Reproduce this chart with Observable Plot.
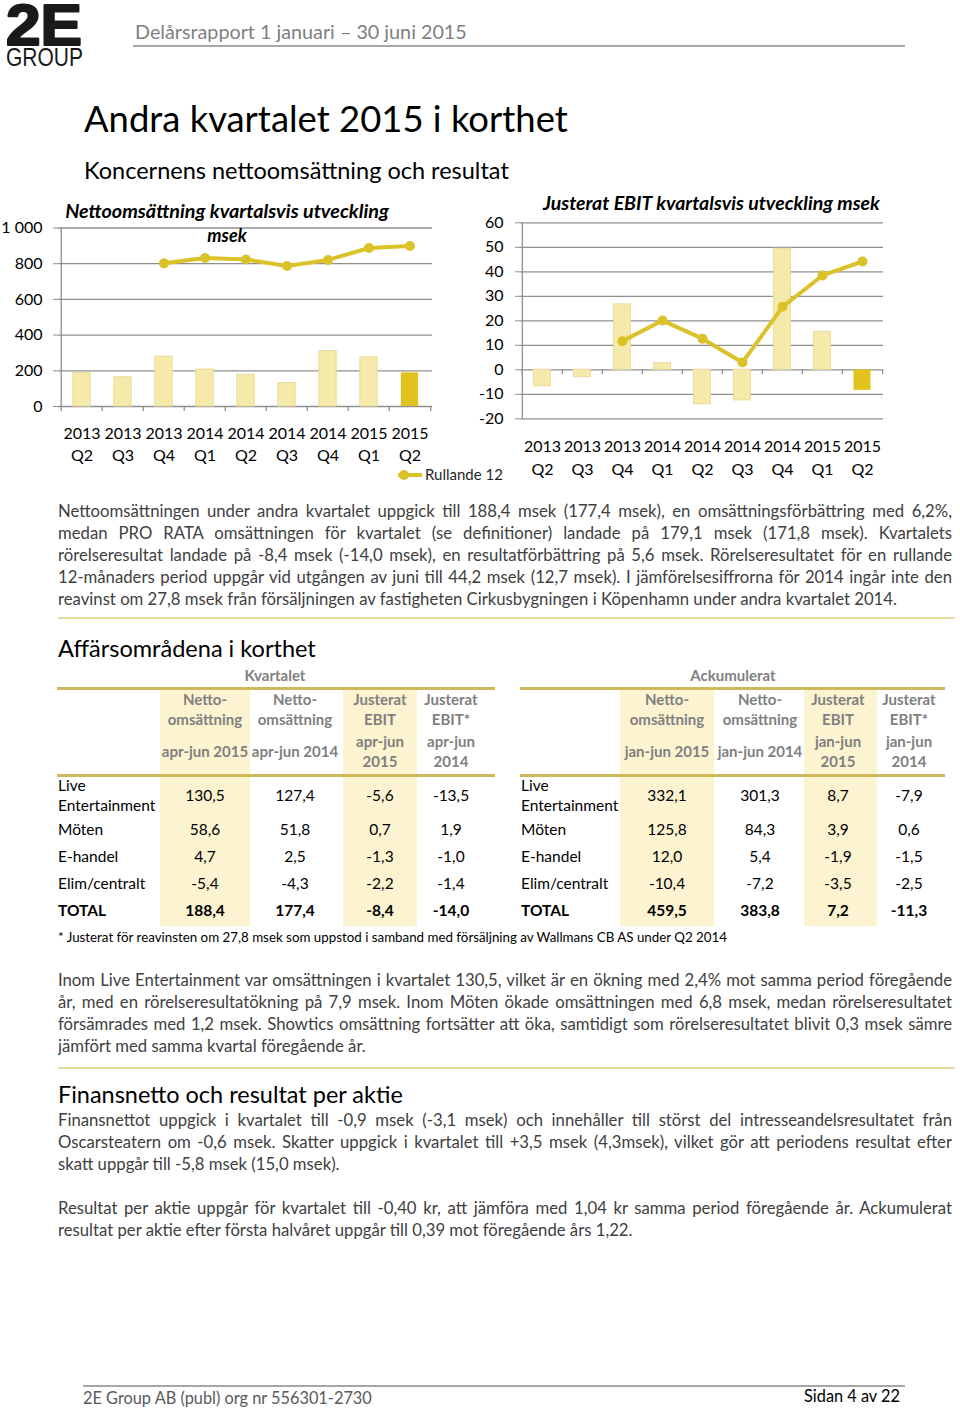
<!DOCTYPE html>
<html><head><meta charset="utf-8">
<script src="https://cdn.jsdelivr.net/npm/d3@7"></script>
<script src="https://cdn.jsdelivr.net/npm/@observablehq/plot@0.6"></script>
<style>
body{margin:0;background:#fff;}
#page{position:relative;width:960px;height:1410px;overflow:hidden;font-family:Lato,"Open Sans",sans-serif;background:#fff;}
.t{position:absolute;white-space:pre;}
.ln{position:absolute;overflow:hidden;white-space:normal;}
.rule{position:absolute;}
.chart{position:absolute;}
</style></head><body><div id="page"></div>
<script>
// ---------- data ----------
const quarters = ["2013 Q2","2013 Q3","2013 Q4","2014 Q1","2014 Q2","2014 Q3","2014 Q4","2015 Q1","2015 Q2"];
const salesQuarter = [187, 164, 279, 207, 177.4, 131, 310, 275, 188.4];
const salesRolling12 = [null, null, 802, 832, 824, 787, 821, 888, 899];
const ebitQuarter = [-6.7, -3.0, 26.7, 2.7, -14.1, -12.5, 49.4, 15.5, -8.4];
const ebitRolling12 = [null, null, 11.7, 20.1, 12.7, 3.0, 25.7, 38.5, 44.2];
const salesTicks = [0, 200, 400, 600, 800, 1000];
const salesTickLabels = ["0", "200", "400", "600", "800", "1 000"];
const ebitTicks = [-20, -10, 0, 10, 20, 30, 40, 50, 60];

const segments = ["Live\nEntertainment", "Möten", "E-handel", "Elim/centralt", "TOTAL"];
const qNet2015 = [130.5, 58.6, 4.7, -5.4, 188.4];
const qNet2014 = [127.4, 51.8, 2.5, -4.3, 177.4];
const qEbit2015 = [-5.6, 0.7, -1.3, -2.2, -8.4];
const qEbit2014 = [-13.5, 1.9, -1.0, -1.4, -14.0];
const aNet2015 = [332.1, 125.8, 12.0, -10.4, 459.5];
const aNet2014 = [301.3, 84.3, 5.4, -7.2, 383.8];
const aEbit2015 = [8.7, 3.9, -1.9, -3.5, 7.2];
const aEbit2014 = [-7.9, 0.6, -1.5, -2.5, -11.3];

const para1 = [
 "Nettoomsättningen under andra kvartalet uppgick till 188,4 msek (177,4 msek), en omsättningsförbättring med 6,2%,",
 "medan PRO RATA omsättningen för kvartalet (se definitioner) landade på 179,1 msek (171,8 msek). Kvartalets",
 "rörelseresultat landade på -8,4 msek (-14,0 msek), en resultatförbättring på 5,6 msek. Rörelseresultatet för en rullande",
 "12-månaders period uppgår vid utgången av juni till 44,2 msek (12,7 msek). I jämförelsesiffrorna för 2014 ingår inte den",
 "reavinst om 27,8 msek från försäljningen av fastigheten Cirkusbygningen i Köpenhamn under andra kvartalet 2014."];
const para2 = [
 "Inom Live Entertainment var omsättningen i kvartalet 130,5, vilket är en ökning med 2,4% mot samma period föregående",
 "år, med en rörelseresultatökning på 7,9 msek. Inom Möten ökade omsättningen med 6,8 msek, medan rörelseresultatet",
 "försämrades med 1,2 msek. Showtics omsättning fortsätter att öka, samtidigt som rörelseresultatet blivit 0,3 msek sämre",
 "jämfört med samma kvartal föregående år."];
const para3 = [
 "Finansnettot uppgick i kvartalet till -0,9 msek (-3,1 msek) och innehåller till störst del intresseandelsresultatet från",
 "Oscarsteatern om -0,6 msek. Skatter uppgick i kvartalet till +3,5 msek (4,3msek), vilket gör att periodens resultat efter",
 "skatt uppgår till -5,8 msek (15,0 msek)."];
const para4 = [
 "Resultat per aktie uppgår för kvartalet till -0,40 kr, att jämföra med 1,04 kr samma period föregående år. Ackumulerat",
 "resultat per aktie efter första halvåret uppgår till 0,39 mot föregående års 1,22."];

// ---------- helpers ----------
const FONT = "Lato, 'Open Sans', sans-serif";
const page = document.getElementById("page");
function T(str, x, yc, size, o = {}) {
  const d = document.createElement("div");
  d.className = "t"; d.textContent = str;
  Object.assign(d.style, {left: x + "px", fontSize: size + "px", lineHeight: (size * 1.2) + "px",
    color: o.color || "#000", fontWeight: o.weight || "normal", fontStyle: o.style || "normal",
    fontFamily: o.family || FONT});
  page.appendChild(d);
  if (o.w) {
    const w = d.getBoundingClientRect().width;
    size = size * o.w / w;
    d.style.fontSize = size + "px"; d.style.lineHeight = (size * 1.2) + "px";
  }
  const w = d.getBoundingClientRect().width;
  if (o.anchor === "middle") d.style.left = (x - w / 2) + "px";
  if (o.anchor === "end") d.style.left = (x - w) + "px";
  d.style.top = (yc - size * 0.66) + "px";
  return d;
}
function R(x, y, w, h, color) {
  const d = document.createElement("div");
  d.className = "rule";
  Object.assign(d.style, {left: x + "px", top: y + "px", width: w + "px", height: h + "px", background: color});
  page.appendChild(d);
  return d;
}
const cv = document.createElement("canvas").getContext("2d");
cv.font = "16px Lato";
const bodySize = 16 * 840 / cv.measureText(para1[4]).width;
function paragraph(lines, y0, step) {
  lines.forEach((s, i) => {
    const d = document.createElement("div");
    d.className = "ln"; d.textContent = s;
    const last = i === lines.length - 1;
    Object.assign(d.style, {left: "58px", width: "894px", top: (y0 + i * step - bodySize * 0.66) + "px",
      height: (bodySize * 1.2) + "px", fontSize: bodySize + "px", lineHeight: (bodySize * 1.2) + "px",
      color: "#404040", textAlign: last ? "left" : "justify", textAlignLast: last ? "left" : "justify"});
    page.appendChild(d);
  });
}
const fmt = v => v.toFixed(1).replace(".", ",");

// ---------- header ----------
const logo = document.createElementNS("http://www.w3.org/2000/svg", "svg");
logo.setAttribute("width", 100); logo.setAttribute("height", 75);
logo.style.position = "absolute"; logo.style.left = "0px"; logo.style.top = "0px";
logo.innerHTML = `<text x="6" y="45" font-family="Liberation Sans, Arial, sans-serif" font-weight="bold" font-size="58" textLength="76" lengthAdjust="spacingAndGlyphs" fill="#1a1a1a" stroke="#1a1a1a" stroke-width="2.2" stroke-linejoin="round">2E</text>
<text x="6" y="66" font-family="Liberation Sans Narrow, Liberation Sans, sans-serif" font-size="25" textLength="77" lengthAdjust="spacingAndGlyphs" fill="#1a1a1a">GROUP</text>`;
page.appendChild(logo);
T("Delårsrapport 1 januari – 30 juni 2015", 135, 33, 20, {color: "#808080", w: 332});
R(133, 45, 772, 2, "#a6a6a6");
T("Andra kvartalet 2015 i korthet", 84, 121, 36, {w: 484});
T("Koncernens nettoomsättning och resultat", 84, 172, 22, {w: 425});

// ---------- charts ----------
const LIGHT = "#f5eaa9", LIGHT_STROKE = "#e9dc9c", HIGHLIGHT = "#e2c31d", LINE = "#dcc22a", GRID = "#8f8f8f";
function makeChart(o) {
  const n = quarters.length;
  const bw = (o.width - o.ml - o.mr) / n;
  const data = quarters.map((q, i) => ({q, v: o.bars[i], r: o.rolling[i], last: i === n - 1}));
  const rolling = data.filter(d => d.r != null);
  const inset = bw * 0.285;
  return Plot.plot({
    width: o.width, height: o.height,
    marginTop: o.mt, marginBottom: o.mb, marginLeft: o.ml, marginRight: o.mr,
    style: {fontFamily: FONT, fontSize: "16px", color: "#000", background: "transparent", overflow: "visible"},
    x: {domain: quarters, padding: 0, axis: null, label: null},
    y: {domain: o.domain, axis: null, label: null},
    marks: [
      Plot.ruleY(o.ticks, {stroke: GRID, strokeWidth: 1.3}),
      Plot.ruleX([quarters[0]], {x: d => d, y1: o.domain[0], y2: o.domain[1], dx: -bw / 2, stroke: GRID, strokeWidth: 1.3}),
      Plot.barY(data.filter(d => !d.last), {x: "q", y1: 0, y2: "v", fill: LIGHT, stroke: LIGHT_STROKE, insetLeft: inset, insetRight: inset}),
      Plot.barY(data.filter(d => d.last), {x: "q", y1: 0, y2: "v", fill: HIGHLIGHT, insetLeft: inset, insetRight: inset}),
      Plot.ruleX(quarters, {x: d => d, y1: 0, y2: 0, insetBottom: -5, dx: -bw / 2, stroke: GRID, strokeWidth: 1.3}),
      Plot.ruleX([quarters[n - 1]], {x: d => d, y1: 0, y2: 0, insetBottom: -5, dx: bw / 2, stroke: GRID, strokeWidth: 1.3}),
      Plot.line(rolling, {x: "q", y: "r", stroke: LINE, strokeWidth: 4}),
      Plot.dot(rolling, {x: "q", y: "r", r: 5, fill: LINE}),
      Plot.axisY(o.ticks, {label: null, tickSize: 5, tickPadding: o.tickPad, tickFormat: o.fmt, stroke: GRID, fill: "#000", fontSize: 16}),
      Plot.axisX({label: null, tickSize: 0, tickPadding: o.xPad, tickFormat: d => d.replace(" ", "\n"), lineHeight: 1.42, fill: "#000", fontSize: 16})
    ]
  });
}
const c1 = makeChart({width: 440, height: 275, mt: 32.5, mb: 64, ml: 58, mr: 8, domain: [0, 1000],
  ticks: salesTicks, fmt: d => salesTickLabels[salesTicks.indexOf(d)], tickPad: 11, xPad: 16,
  bars: salesQuarter, rolling: salesRolling12});
c1.classList.add("chart"); c1.style.left = "0px"; c1.style.top = "195px";
page.appendChild(c1);
const c2 = makeChart({width: 420, height: 290, mt: 27.3, mb: 66.7, ml: 50, mr: 7, domain: [-20, 60],
  ticks: ebitTicks, fmt: d => String(d), tickPad: 12, xPad: 17,
  bars: ebitQuarter, rolling: ebitRolling12});
c2.classList.add("chart"); c2.style.left = "470px"; c2.style.top = "195px";
page.appendChild(c2);

T("Nettoomsättning kvartalsvis utveckling", 227, 212, 18, {weight: "bold", style: "italic", w: 324, anchor: "middle"});
T("msek", 227, 237, 18, {weight: "bold", style: "italic", anchor: "middle"});
T("Justerat EBIT kvartalsvis utveckling msek", 543, 204, 18, {weight: "bold", style: "italic", w: 337});

// legend
const lg = document.createElementNS("http://www.w3.org/2000/svg", "svg");
lg.setAttribute("width", 30); lg.setAttribute("height", 14);
lg.style.position = "absolute"; lg.style.left = "396px"; lg.style.top = "468px";
lg.innerHTML = `<line x1="2" x2="26" y1="7" y2="7" stroke="${LINE}" stroke-width="4"/><circle cx="8" cy="7" r="5" fill="${LINE}"/>`;
page.appendChild(lg);
T("Rullande 12", 425, 475, 14, {color: "#262626", w: 78});

// ---------- paragraph 1 ----------
paragraph(para1, 512, 22);
R(58, 617, 897, 1.5, "#e9dc98");

// ---------- tables ----------
T("Affärsområdena i korthet", 58, 650, 24, {w: 258});

function buildTable(t) {
  t.highlights.forEach(h => R(h[0], 690, h[1], 236, "#fcf3d1"));
  R(t.x0, 687, t.x1 - t.x0, 2.5, "#cdb95a");
  R(t.x0, 774, t.x1 - t.x0, 2.5, "#cdb95a");
  T(t.title, t.titleX, 676, 15, {color: "#7f7f7f", weight: "bold", anchor: "middle"});
  const HC = "#7f7f7f";
  t.cols.forEach((c, ci) => {
    c.head.forEach(h => T(h[0], c.x, h[1], 15, {color: HC, weight: "bold", anchor: "middle"}));
  });
  const rowY = [796, 830, 857, 884, 911];
  segments.forEach((s, ri) => {
    const bold = ri === segments.length - 1 ? "bold" : "normal";
    if (s.includes("\n")) {
      const [a, b] = s.split("\n");
      T(a, t.labelX, 786, 15.5, {weight: bold});
      T(b, t.labelX, 806, 15.5, {weight: bold});
    } else T(s, t.labelX, rowY[ri], 15.5, {weight: bold});
    t.cols.forEach(c => T(fmt(c.values[ri]), c.x, rowY[ri], 15.5, {weight: bold, anchor: "middle"}));
  });
}
buildTable({x0: 57, x1: 495, labelX: 58, title: "Kvartalet", titleX: 275,
  highlights: [[160, 90], [343, 74]],
  cols: [
    {x: 205, values: qNet2015, head: [["Netto-", 700], ["omsättning", 720], ["apr-jun 2015", 752]]},
    {x: 295, values: qNet2014, head: [["Netto-", 700], ["omsättning", 720], ["apr-jun 2014", 752]]},
    {x: 380, values: qEbit2015, head: [["Justerat", 700], ["EBIT", 720], ["apr-jun", 742], ["2015", 762]]},
    {x: 451, values: qEbit2014, head: [["Justerat", 700], ["EBIT*", 720], ["apr-jun", 742], ["2014", 762]]}
  ]});
buildTable({x0: 520, x1: 945, labelX: 521, title: "Ackumulerat", titleX: 733,
  highlights: [[620, 94], [804, 73]],
  cols: [
    {x: 667, values: aNet2015, head: [["Netto-", 700], ["omsättning", 720], ["jan-jun 2015", 752]]},
    {x: 760, values: aNet2014, head: [["Netto-", 700], ["omsättning", 720], ["jan-jun 2014", 752]]},
    {x: 838, values: aEbit2015, head: [["Justerat", 700], ["EBIT", 720], ["jan-jun", 742], ["2015", 762]]},
    {x: 909, values: aEbit2014, head: [["Justerat", 700], ["EBIT*", 720], ["jan-jun", 742], ["2014", 762]]}
  ]});
T("* Justerat för reavinsten om 27,8 msek som uppstod i samband med försäljning av Wallmans CB AS under Q2 2014", 58, 938, 13, {w: 670});

// ---------- paragraphs 2-4 ----------
paragraph(para2, 981, 22);
R(58, 1067, 897, 1.5, "#e9dc98");
T("Finansnetto och resultat per aktie", 58, 1095, 24, {w: 345});
paragraph(para3, 1121, 22);
paragraph(para4, 1209, 22);

// ---------- footer ----------
R(83, 1385, 822, 1.5, "#a6a6a6");
T("2E Group AB (publ) org nr 556301-2730", 83, 1399, 17, {color: "#595959", w: 289});
T("Sidan 4 av 22", 900, 1397, 17, {color: "#000", w: 96, anchor: "end"});
</script></body></html>
